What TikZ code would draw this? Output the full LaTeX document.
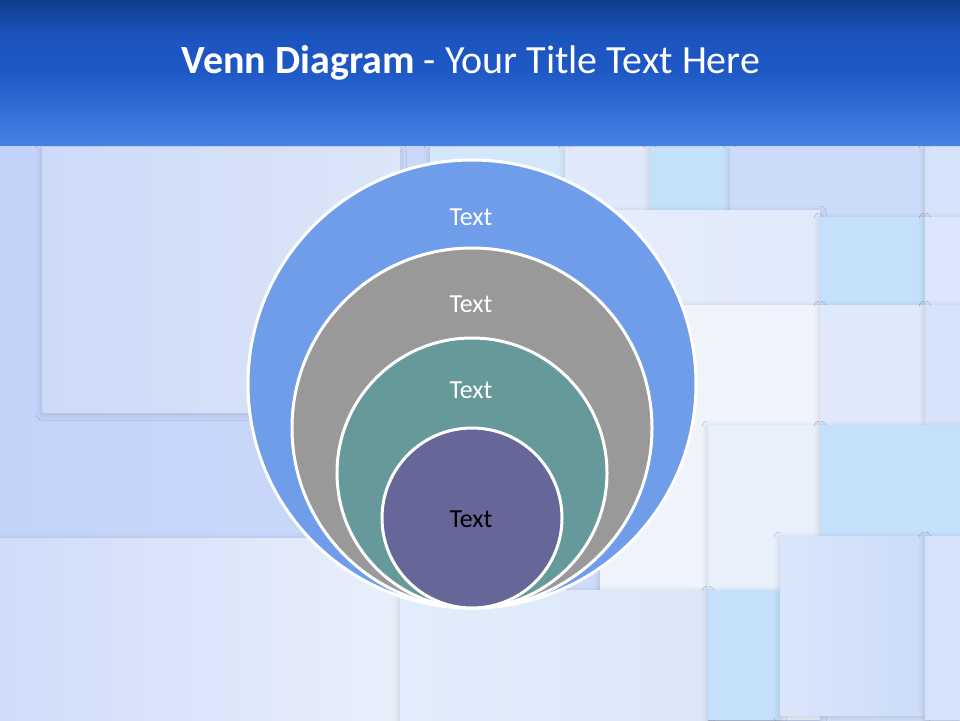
\documentclass[tikz,border=0pt]{standalone}
\usepackage{fontspec}
\setmainfont{Carlito}
\usetikzlibrary{shadows.blur}
\definecolor{hdtop}{HTML}{0F3C8F}
\definecolor{hdmid}{HTML}{1E58C6}
\definecolor{hdbot}{HTML}{4682E4}
\definecolor{bgA}{HTML}{C3D2F9}
\definecolor{bgB}{HTML}{D3E2FA}
\definecolor{tileL}{HTML}{DCE6F8}
\definecolor{tileW}{HTML}{EEF3FC}
\definecolor{tileC}{HTML}{C4E0FB}
\definecolor{tileP}{HTML}{CBDBF9}
\definecolor{cBlue}{HTML}{6F9DE9}
\definecolor{cGray}{HTML}{999999}
\definecolor{cTeal}{HTML}{669999}
\definecolor{cPurp}{HTML}{666699}
\tikzset{
  tile/.style={blur shadow={shadow xshift=0pt,shadow yshift=-2pt,shadow blur radius=6pt,shadow opacity=16}},
  ring/.style={draw=white,line width=3pt},
  lbl/.style={font=\fontsize{26}{30}\selectfont,inner sep=0pt},
}
\begin{document}
\begin{tikzpicture}[x=1pt,y=-1pt]
\useasboundingbox (0,0) rectangle (960,720);
% background
\shade[left color=bgA,right color=bgB] (0,0) rectangle (960,720);
% tiles (left)
\fill[tile,left color=bgA!60!tileL,right color=tileL] (42,147) rectangle (400,412);
\fill[tile,left color=bgA!50!tileL,right color=tileW!70!tileL] (0,538) rectangle (400,720);
% tiles (right, top row)
\fill[tile,fill=tileC!60!tileW] (430,147) rectangle (565,210);
\fill[tile,fill=tileP!60!white] (565,147) rectangle (650,210);
\fill[tile,fill=tileC] (650,147) rectangle (730,210);
\fill[tile,fill=tileP] (730,147) rectangle (925,217);
\fill[tile,fill=tileP!80!white] (925,147) rectangle (960,217);
% second row
\fill[tile,left color=tileW!80!tileP,right color=tileW!60!tileP] (568,210) rectangle (820,305);
\fill[tile,fill=tileC] (820,217) rectangle (925,305);
\fill[tile,fill=tileP!70!white] (925,217) rectangle (960,305);
% third row
\fill[tile,fill=tileW] (600,305) rectangle (820,590);
\fill[tile,fill=tileP!60!white] (820,305) rectangle (925,425);
\fill[tile,fill=tileP!80!white] (925,305) rectangle (960,425);
\fill[tile,fill=tileW!85!tileC] (708,425) rectangle (820,720);
\fill[tile,fill=tileC] (820,425) rectangle (960,536);
% bottom
\fill[tile,left color=tileW!70!tileC,right color=tileL] (400,590) rectangle (708,720);
\fill[tile,fill=tileC] (708,590) rectangle (780,720);
\fill[tile,left color=tileP!70!white,right color=tileP] (780,536) rectangle (925,715);
\fill[tile,fill=tileP!80!white] (925,536) rectangle (960,720);
% header
\shade[top color=hdtop,bottom color=hdmid,middle color=hdmid!85!hdtop] (0,0) rectangle (960,70);
\shade[top color=hdmid,bottom color=hdbot] (0,70) rectangle (960,145);
\node (title) [text=white,font=\fontsize{40}{44}\selectfont,inner sep=0pt] at (471,63)
  {\textbf{Venn Diagram} - Your Title Text Here};
% circles
\node (c1) [circle,ring,fill=cBlue,minimum size=448pt,inner sep=0pt] at (472,384) {};
\node (c2) [circle,ring,fill=cGray,minimum size=360pt,inner sep=0pt] at (472,428) {};
\node (c3) [circle,ring,fill=cTeal,minimum size=270pt,inner sep=0pt] at (472,473) {};
\node (c4) [circle,ring,fill=cPurp,minimum size=180pt,inner sep=0pt] at (472,518) {};
\node (t1) [lbl,text=white] at (471,217) {Text};
\node (t2) [lbl,text=white] at (471,304) {Text};
\node (t3) [lbl,text=white] at (471,390) {Text};
\node (t4) [lbl,text=black] at (471,519) {Text};
\end{tikzpicture}
\end{document}
